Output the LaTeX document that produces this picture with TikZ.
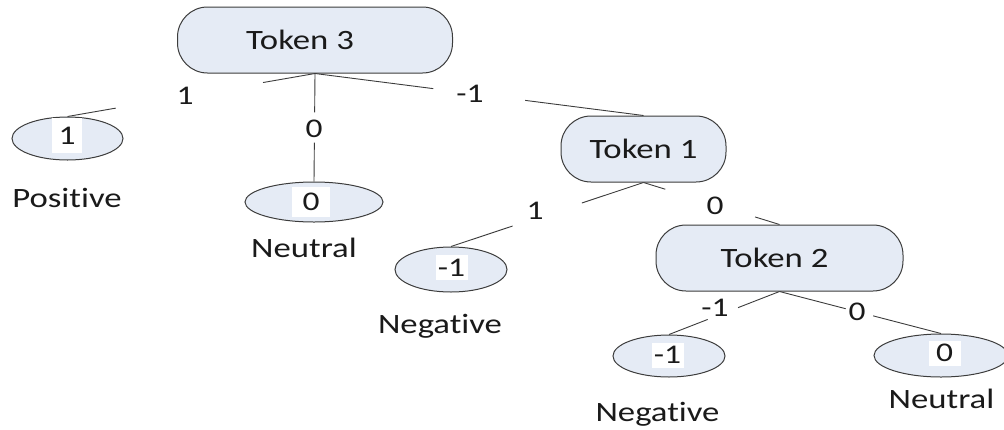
\documentclass[tikz,border=0pt]{standalone}
\usepackage{fontspec}
\setmainfont{Carlito}[FakeStretch=1.24,RawFeature=-liga]
\usetikzlibrary{shapes.geometric,calc}
\definecolor{boxfill}{HTML}{E5EBF5}
\definecolor{linegray}{HTML}{3C3C3C}
\definecolor{ink}{HTML}{1A1A1A}
\begin{document}
\begin{tikzpicture}[x=1pt,y=-1pt,
  tokenbox/.style={draw=linegray,line width=1pt,fill=boxfill,rounded corners=30pt,
    inner sep=0pt,text=ink,font=\fontsize{28}{30}\selectfont,minimum height=66pt},
  leaf/.style={ellipse,draw=linegray,line width=1pt,fill=boxfill,inner sep=0pt},
  val/.style={fill=white,inner sep=0pt,text=ink,font=\fontsize{27}{29}\selectfont,
    minimum width=32pt,minimum height=25pt},
  caption/.style={anchor=base,text=ink,font=\fontsize{28}{30}\selectfont,inner sep=0pt},
  elabel/.style={text=ink,font=\fontsize{27}{29}\selectfont,inner sep=0pt},
  link/.style={draw=linegray,line width=0.9pt}]
\useasboundingbox (0,0) rectangle (1004,429);
\clip (0,0) rectangle (1004,429);

% decision nodes
\node[tokenbox,minimum width=275pt] (t3) at (315,40) {\hspace*{-30pt}Token 3};
\node[tokenbox,minimum width=165pt] (t1) at (643.5,149) {Token 1};
\node[tokenbox,minimum width=247pt] (t2) at (779.5,258) {\hspace*{-10pt}Token 2};

% leaves
\node[leaf,minimum width=111pt,minimum height=43pt] (lp) at (67.5,138.5) {};
\node[leaf,minimum width=138pt,minimum height=40pt] (lz1) at (314,202) {};
\node[leaf,minimum width=112pt,minimum height=45pt] (ln1) at (451,269.5) {};
\node[leaf,minimum width=112pt,minimum height=42pt] (ln2) at (669,356) {};
\node[leaf,minimum width=134pt,minimum height=43pt] (lz2) at (941,355.5) {};

% leaf values
\node[val,minimum height=35pt,minimum width=30pt] (vp) at (67,135.5) {1};
\node[val,minimum width=38pt,minimum height=30pt] (vz1) at (311,202) {0};
\node[val] (vn1) at (451.5,267.5) {-1};
\node[val] (vn2) at (667.5,355) {-1};
\node[val] (vz2) at (944.5,353) {0};

% class names
\node[caption] (cp) at (67,207) {Positive};
\node[caption] (cz1) at (304,257) {Neutral};
\node[caption] (cn1) at (440,333) {Negative};
\node[caption] (cn2) at (657.5,421) {Negative};
\node[caption] (cz2) at (941.5,408) {Neutral};

% branches, broken around their labels
\draw[link] (t3.south) -- ($(t3.south)!0.21!(lp.north)$)
            ($(t3.south)!0.805!(lp.north)$) -- (lp.north);
\draw[link] (t3.south) -- ($(t3.south)!0.36!(lz1.north)$)
            ($(t3.south)!0.64!(lz1.north)$) -- (lz1.north);
\draw[link] (t3.south) -- ($(t3.south)!0.36!(t1.north)$)
            ($(t3.south)!0.64!(t1.north)$) -- (t1.north);
\draw[link] (t1.south) -- ($(t1.south)!0.32!(ln1.north)$)
            ($(t1.south)!0.68!(ln1.north)$) -- (ln1.north);
\draw[link] (t1.south) -- ($(t1.south)!0.16!(t2.north)$)
            ($(t1.south)!0.82!(t2.north)$) -- (t2.north);
\draw[link] (t2.south) -- ($(t2.south)!0.375!(ln2.north)$)
            ($(t2.south)!0.65!(ln2.north)$) -- (ln2.north);
\draw[link] (t2.south) -- ($(t2.south)!0.41!(lz2.north)$)
            ($(t2.south)!0.58!(lz2.north)$) -- (lz2.north);

% branch labels
\node[elabel] (b1) at (185,96) {1};
\node[elabel] (b2) at (314,129) {0};
\node[elabel] (b3) at (470,94) {-1};
\node[elabel] (b4) at (535,211) {1};
\node[elabel] (b5) at (715,206) {0};
\node[elabel] (b6) at (715,308) {-1};
\node[elabel] (b7) at (857,312) {0};
\end{tikzpicture}
\end{document}
